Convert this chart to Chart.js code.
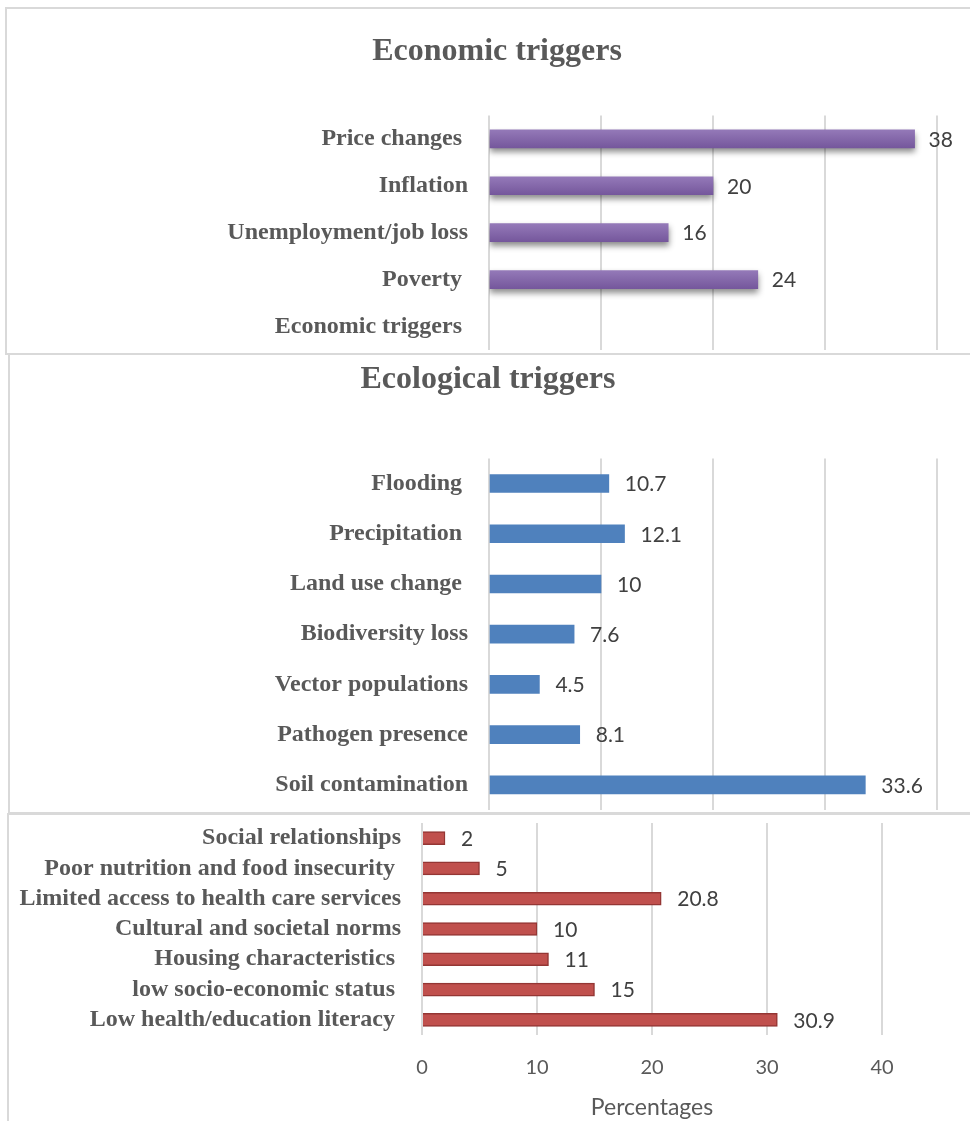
<!DOCTYPE html>
<html>
<head>
<meta charset="utf-8">
<script src="https://cdn.jsdelivr.net/npm/chart.js@4"></script>
<style>
  body { margin:0; background:#fff; width:970px; height:1121px; overflow:hidden; position:relative; }
  .frame { position:absolute; border:2px solid #d9d9d9; box-sizing:border-box; }
  canvas { position:absolute; }
</style>
</head>
<body>
<div class="frame" style="left:5px; top:7px; width:980px; height:348px;"></div>
<div class="frame" style="left:8px; top:353px; width:980px; height:461px;"></div>
<div class="frame" style="left:7px; top:813px; width:980px; height:330px;"></div>
<canvas id="econChart" width="961" height="343" style="left:8px; top:10px;"></canvas>
<canvas id="ecoChart" width="958" height="456" style="left:11px; top:356px;"></canvas>
<canvas id="socChart" width="960" height="305" style="left:10px; top:816px;"></canvas>
<script>
// ── data ───────────────────────────────────────────────────────────
const xTicks = [0, 10, 20, 30, 40];

const econLabels = ['Price changes ', 'Inflation', 'Unemployment/job loss', 'Poverty ', 'Economic triggers '];
const econValues = [38, 20, 16, 24, null];

const ecoLabels = ['Flooding ', 'Precipitation ', 'Land use change ', 'Biodiversity loss', 'Vector populations', 'Pathogen presence', 'Soil contamination'];
const ecoValues = [10.7, 12.1, 10, 7.6, 4.5, 8.1, 33.6];

const socLabels = ['Social relationships', 'Poor nutrition and food insecurity ', 'Limited access to health care services',
                   'Cultural and societal norms', 'Housing characteristics ', 'low socio-economic status ', 'Low health/education literacy '];
const socValues = [2, 5, 20.8, 10, 11, 15, 30.9];

const GRID  = '#d9d9d9';
const LABEL = '#595959';
const SERIF = '"Liberation Serif", "Times New Roman", serif';
const SANS  = 'Lato, "Open Sans", sans-serif';

// value text drawn just past the end of each bar
const valueLabels = {
  id: 'valueLabels',
  afterDatasetsDraw(chart, args, opts) {
    const ctx = chart.ctx;
    ctx.save();
    ctx.font = `${opts.size || 18}px ${SANS}`;
    ctx.fillStyle = '#404040';
    ctx.textBaseline = 'middle';
    ctx.textAlign = 'left';
    const vals = chart.data.datasets[0].data;
    chart.getDatasetMeta(0).data.forEach((bar, i) => {
      if (vals[i] == null) return;
      ctx.fillText(String(vals[i]), bar.x + (opts.offset || 14), bar.y + 1);
    });
    ctx.restore();
  }
};

// soft drop shadow under the bars (economic panel)
const barShadow = {
  id: 'barShadow',
  beforeDatasetDraw(chart, args, opts) {
    if (!opts.on) return;
    const ctx = chart.ctx;
    ctx.save();
    ctx.shadowColor = 'rgba(0,0,0,0.45)';
    ctx.shadowBlur = 6;
    ctx.shadowOffsetY = 4;
  },
  afterDatasetDraw(chart, args, opts) {
    if (!opts.on) return;
    chart.ctx.restore();
  }
};

// light-to-dark vertical shading for the purple bars
function purpleFill(c) {
  const y = c.chart.scales.y;
  if (!y || c.type !== 'data') return '#8064a2';
  const mid = y.getPixelForValue(c.dataIndex);
  if (!isFinite(mid)) return '#8064a2';
  const g = c.chart.ctx.createLinearGradient(0, mid - 9, 0, mid + 9);
  g.addColorStop(0, '#9479b8');
  g.addColorStop(1, '#75579c');
  return g;
}

function makeChart(id, cfg) {
  const yWidth = cfg.yWidth;
  return new Chart(document.getElementById(id), {
    type: 'bar',
    data: {
      labels: cfg.labels,
      datasets: [{
        data: cfg.values,
        backgroundColor: cfg.color,
        borderColor: cfg.border || 'rgba(0,0,0,0)',
        borderWidth: cfg.border ? 1.5 : 0,
        barThickness: cfg.bar,
      }],
    },
    plugins: [valueLabels, barShadow],
    options: {
      responsive: false,
      devicePixelRatio: 1,
      animation: false,
      indexAxis: 'y',
      layout: { padding: cfg.padding },
      plugins: {
        legend: { display: false },
        tooltip: { enabled: false },
        title: cfg.title ? {
          display: true,
          text: cfg.title,
          color: LABEL,
          font: { family: SERIF, size: 32, weight: 'bold', lineHeight: 1.2 },
          padding: cfg.titlePad,
        } : { display: false },
        valueLabels: { offset: cfg.offset, size: 21 },
        barShadow: { on: !!cfg.shadow },
      },
      scales: {
        x: {
          min: 0, max: 40,
          afterBuildTicks: s => { s.ticks = xTicks.map(v => ({ value: v })); },
          afterFit: s => { s.height = cfg.xAxis ? 86 : 0; },
          grid: { color: GRID, lineWidth: 2, drawTicks: false },
          border: { display: false },
          ticks: {
            display: !!cfg.xAxis,
            color: LABEL,
            padding: 21,
            font: { family: SANS, size: 20 },
          },
          title: {
            display: !!cfg.xAxis,
            text: 'Percentages',
            color: LABEL,
            font: { family: SANS, size: 23 },
            padding: { top: 0, bottom: 0 },
          },
        },
        y: {
          grid: { display: false, drawTicks: false },
          border: { display: false },
          afterFit: s => { s.width = yWidth; s.paddingTop = 0; s.paddingBottom = 0; },
          ticks: {
            color: LABEL,
            padding: 21,
            autoSkip: false,
            font: { family: SERIF, size: 24, weight: 'bold' },
          },
        },
      },
    },
  });
}

makeChart('econChart', {
  labels: econLabels, values: econValues,
  color: purpleFill, bar: 18, shadow: true, offset: 14,
  title: 'Economic triggers', titlePad: { top: 23, bottom: 44 },
  yWidth: 432,
  padding: { top: 0, right: 32, bottom: 3, left: 49 },
});

makeChart('ecoChart', {
  labels: ecoLabels, values: ecoValues,
  color: '#4f81bd', bar: 18, offset: 16,
  title: 'Ecological triggers', titlePad: { top: 5, bottom: 59 },
  yWidth: 450,
  padding: { top: 0, right: 32, bottom: 2, left: 28 },
});

makeChart('socChart', {
  labels: socLabels, values: socValues,
  color: '#c0504d', border: '#943634', bar: 13, offset: 16,
  xAxis: true,
  yWidth: 412,
  padding: { top: 7, right: 88, bottom: 0, left: 0 },
});
</script>
</body>
</html>
